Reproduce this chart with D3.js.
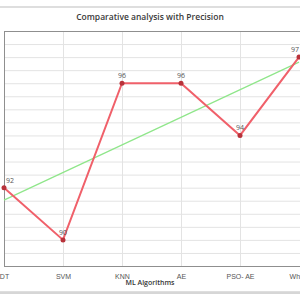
<!DOCTYPE html>
<html>
<head>
<meta charset="utf-8">
<script src="https://cdn.jsdelivr.net/npm/d3@7"></script>
<style>
  body { margin: 0; background: #fff; }
  svg { display: block; font-family: "Open Sans", sans-serif; }
</style>
</head>
<body>
<div id="chart"></div>
<script>
var categories = ["DT", "SVM", "KNN", "AE", "PSO- AE", "Whale"];
var precision = [92, 90, 96, 96, 94, 97];
var yTicks = d3.range(89, 98.01, 0.5);

var width = 300, height = 300;
var margin = { top: 31, right: 1, bottom: 34, left: 4 };

var svg = d3.select("#chart").append("svg")
  .attr("width", width)
  .attr("height", height);

// outer frame with a soft shadow at the bottom
svg.append("rect")
  .attr("x", -2).attr("y", 7)
  .attr("width", width + 4).attr("height", 285)
  .attr("fill", "#fff")
  .attr("stroke", "#bdbdbd")
  .attr("stroke-width", 1);
svg.append("line")
  .attr("x1", 0).attr("x2", width)
  .attr("y1", 293).attr("y2", 293)
  .attr("stroke", "#d6d6d6").attr("stroke-width", 2);

var xscale = d3.scalePoint()
  .domain(categories)
  .range([margin.left, width - margin.right]);

var yscale = d3.scaleLinear()
  .domain([89, 98])
  .range([height - margin.bottom, margin.top]);

// gridlines
svg.append("g")
  .selectAll("line")
  .data(yTicks)
  .enter().append("line")
  .attr("x1", margin.left).attr("x2", width)
  .attr("y1", function (d) { return yscale(d) + 0.5; })
  .attr("y2", function (d) { return yscale(d) + 0.5; })
  .attr("stroke", "#e3e3e3");

svg.append("g")
  .selectAll("line")
  .data(categories.slice(1, -1))
  .enter().append("line")
  .attr("x1", function (d) { return xscale(d) + 0.5; })
  .attr("x2", function (d) { return xscale(d) + 0.5; })
  .attr("y1", margin.top).attr("y2", height - margin.bottom)
  .attr("stroke", "#e3e3e3");

// plot border
svg.append("rect")
  .attr("x", margin.left + 0.5).attr("y", margin.top + 0.5)
  .attr("width", width)
  .attr("height", height - margin.bottom - margin.top)
  .attr("fill", "none")
  .attr("stroke", "#8f8f8f");

// x axis labels
var xAxis = d3.axisBottom(xscale).tickSize(0).tickPadding(8);
var gx = svg.append("g")
  .attr("transform", "translate(0," + (height - margin.bottom) + ")")
  .call(xAxis);
gx.select(".domain").remove();
gx.selectAll("text")
  .style("font-size", "7px")
  .attr("fill", "#555");

// trend line (least squares fit of the series)
var n = precision.length;
var mx = d3.mean(d3.range(n)), my = d3.mean(precision);
var slope = d3.sum(precision, function (v, i) { return (i - mx) * (v - my); }) /
  d3.sum(d3.range(n), function (i) { return (i - mx) * (i - mx); });
var icpt = my - slope * mx;
svg.append("line")
  .attr("x1", xscale(categories[0]))
  .attr("y1", yscale(icpt))
  .attr("x2", xscale(categories[n - 1]))
  .attr("y2", yscale(icpt + slope * (n - 1)))
  .attr("stroke", "#8fe68a")
  .attr("stroke-width", 1.2);

var points = categories.map(function (c, i) { return { name: c, value: precision[i] }; });

var line = d3.line()
  .x(function (d) { return xscale(d.name); })
  .y(function (d) { return yscale(d.value); });

svg.append("path")
  .datum(points)
  .attr("d", line)
  .attr("fill", "none")
  .attr("stroke", "#f0606a")
  .attr("stroke-width", 2);

svg.selectAll(".dot").data(points).enter().append("circle")
  .attr("class", "dot")
  .attr("cx", function (d) { return xscale(d.name); })
  .attr("cy", function (d) { return yscale(d.value); })
  .attr("r", 2.5)
  .attr("fill", "#b8323a");

svg.selectAll(".lbl").data(points).enter().append("text")
  .attr("class", "lbl")
  .attr("x", function (d) { return Math.min(Math.max(xscale(d.name), 10), 295); })
  .attr("y", function (d) { return yscale(d.value) - 5; })
  .attr("text-anchor", "middle")
  .style("font-size", "7px")
  .attr("fill", "#555")
  .text(function (d) { return d.value; });

// titles
svg.append("text")
  .attr("x", 150).attr("y", 20)
  .attr("text-anchor", "middle")
  .style("font-size", "8.5px")
  .style("font-weight", "600")
  .attr("fill", "#3a3a3a")
  .text("Comparative analysis with Precision");

svg.append("text")
  .attr("x", 150).attr("y", 285)
  .attr("text-anchor", "middle")
  .style("font-size", "7px")
  .style("font-weight", "600")
  .attr("fill", "#333")
  .text("ML Algorithms");
</script>
</body>
</html>
